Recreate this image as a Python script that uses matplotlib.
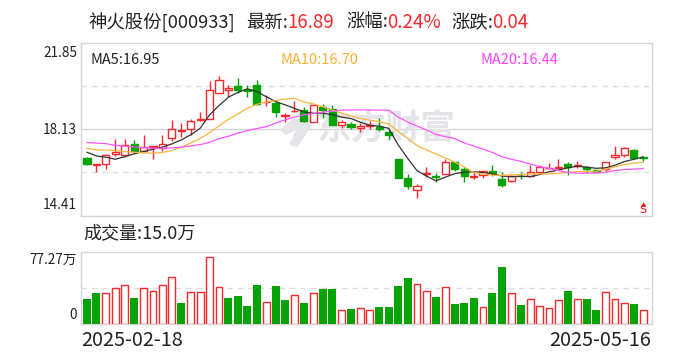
import numpy as np
import matplotlib
matplotlib.use('Agg')
import matplotlib.pyplot as plt
from matplotlib.patches import Polygon

plt.rcParams['font.family'] = ['Noto Sans CJK SC', 'DejaVu Sans']

# candle data, one row of ten per line
opens = [16.89, 16.60, 16.61, 17.06, 17.03, 17.47, 17.19, 17.35, 17.33, 17.73,
         18.06, 18.12, 18.52, 18.58, 19.67, 19.82, 19.98, 19.84, 20.03, 19.27,
         19.24, 18.69, 18.89, 18.95, 18.45, 19.08, 18.98, 18.32, 18.35, 18.16,
         18.28, 18.23, 18.00, 16.84, 16.03, 15.50, 16.19, 16.11, 16.19, 16.71,
         16.40, 16.08, 16.16, 16.31, 15.98, 15.90, 16.13, 16.10, 16.30, 16.44,
         16.47, 16.63, 16.54, 16.49, 16.36, 16.40, 16.94, 17.03, 17.23, 16.92]
closes = [16.63, 16.63, 17.00, 17.15, 17.46, 17.20, 17.37, 17.39, 17.50, 18.12,
          18.09, 18.46, 18.55, 19.80, 20.23, 19.91, 19.81, 19.75, 19.22, 19.29,
          18.84, 18.74, 18.92, 18.48, 19.15, 18.96, 18.32, 18.43, 18.23, 18.26,
          18.32, 18.11, 17.89, 16.04, 15.70, 15.67, 16.23, 16.06, 16.70, 16.41,
          16.13, 16.11, 16.34, 16.23, 15.73, 16.10, 16.10, 16.26, 16.49, 16.47,
          16.50, 16.50, 16.59, 16.39, 16.29, 16.70, 17.03, 17.30, 16.89, 16.89]
highs = [16.92, 16.63, 17.06, 17.70, 17.70, 17.66, 17.88, 17.42, 17.88, 18.52,
         18.38, 18.55, 18.86, 20.20, 20.41, 20.01, 20.33, 20.03, 20.24, 19.60,
         19.38, 18.81, 19.34, 19.09, 19.15, 19.19, 19.15, 18.52, 18.43, 18.38,
         18.48, 18.59, 18.12, 16.84, 16.20, 15.77, 16.50, 16.23, 16.86, 16.71,
         16.51, 16.29, 16.34, 16.57, 16.27, 16.16, 16.29, 16.60, 16.57, 16.67,
         16.84, 16.71, 16.74, 16.54, 16.37, 16.70, 17.40, 17.36, 17.26, 16.94]
lows = [16.59, 16.29, 16.43, 16.99, 16.94, 17.09, 17.12, 16.86, 17.20, 17.63,
        17.80, 17.88, 18.48, 18.55, 19.67, 19.50, 19.67, 19.52, 19.15, 19.14,
        18.66, 18.45, 18.86, 18.45, 18.45, 18.62, 18.29, 18.19, 18.12, 18.02,
        18.13, 18.06, 17.68, 16.04, 15.53, 15.18, 16.06, 15.87, 16.19, 16.33,
        15.86, 15.97, 16.04, 16.13, 15.64, 15.87, 15.96, 16.08, 16.20, 16.43,
        16.41, 16.16, 16.44, 16.23, 16.27, 16.34, 16.84, 16.92, 16.86, 16.77]

ma5 = [17.13, 16.97, 16.92, 16.83, 16.94, 17.06, 17.16, 17.26, 17.35, 17.49,
       17.66, 17.88, 18.16, 18.74, 19.14, 19.50, 19.70, 19.85, 19.74, 19.52,
       19.31, 19.17, 19.02, 18.86, 18.81, 18.81, 18.75, 18.64, 18.58, 18.42,
       18.29, 18.25, 18.16, 17.45, 16.87, 16.34, 16.11, 15.90, 16.06, 16.21,
       16.27, 16.29, 16.26, 16.20, 16.11, 16.08, 16.10, 16.08, 16.17, 16.29,
       16.36, 16.46, 16.53, 16.49, 16.44, 16.46, 16.57, 16.73, 16.83, 16.93]
ma10 = [17.30, 17.23, 17.22, 17.20, 17.16, 17.13, 17.10, 17.09, 17.12, 17.20,
        17.35, 17.53, 17.72, 17.98, 18.26, 18.55, 18.78, 19.02, 19.19, 19.29,
        19.35, 19.42, 19.45, 19.29, 19.21, 19.09, 18.95, 18.81, 18.69, 18.58,
        18.51, 18.45, 18.35, 18.02, 17.73, 17.42, 17.23, 17.06, 16.89, 16.70,
        16.50, 16.26, 16.20, 16.14, 16.14, 16.16, 16.17, 16.19, 16.20, 16.20,
        16.23, 16.26, 16.30, 16.30, 16.31, 16.40, 16.51, 16.60, 16.66, 16.70]
ma20 = [17.55, 17.52, 17.50, 17.43, 17.39, 17.36, 17.33, 17.30, 17.30, 17.32,
        17.35, 17.40, 17.46, 17.55, 17.72, 17.82, 17.95, 18.06, 18.15, 18.23,
        18.38, 18.52, 18.64, 18.74, 18.79, 18.86, 18.89, 18.94, 18.95, 18.95,
        18.95, 18.94, 18.94, 18.64, 18.43, 18.26, 18.09, 17.90, 17.80, 17.72,
        17.53, 17.40, 17.26, 17.12, 16.94, 16.83, 16.74, 16.63, 16.51, 16.44,
        16.34, 16.26, 16.23, 16.23, 16.24, 16.27, 16.34, 16.39, 16.40, 16.43]

# volume in 万, r = red outline, g = solid green
volumes = [26.1, 32.6, 32.2, 37.6, 40.8, 27.2, 37.6, 35.4, 40.8, 50.4,
           21.8, 34.3, 33.3, 71.9, 39.7, 27.2, 29.3, 18.6, 41.1, 23.6,
           40.1, 25.0, 31.1, 21.8, 32.2, 36.8, 36.8, 15.0, 15.4, 16.1,
           15.0, 17.5, 17.5, 40.1, 48.6, 42.9, 35.4, 28.3, 39.7, 20.7,
           21.8, 27.2, 17.2, 32.6, 60.5, 32.2, 19.7, 26.8, 19.3, 16.1,
           24.7, 34.7, 25.8, 26.1, 14.3, 33.3, 25.8, 22.5, 20.7, 15.0]
vol_colors = list('ggrrrgrrrr' 'grrrrggggr' 'ggrgrggrgr' 'rggggrrgrg' 'ggrggrgrrr' 'rgrggrrrgr')

price_top = 21.85
price_mid = 18.13
price_bottom = 14.41
vol_top = 77.27
date_labels = ['2025-02-18', '2025-05-16']

RED = '#f8282c'
GREEN = '#05a305'
FRAME = '#d4d4da'
GRID = '#dddddd'
MARK = '#e4e4e9'
W, H = 688, 360

x = np.arange(len(closes))
opens_a, closes_a = np.array(opens), np.array(closes)
is_up = closes_a >= opens_a

fig = plt.figure(figsize=(W / 100, H / 100), dpi=100)


def box(left, top, right, bottom):
    return [left / W, 1 - bottom / H, (right - left) / W, (bottom - top) / H]


def label(px, py, s, color='#222222', size=10, ha='left', **kw):
    fig.text(px / W, 1 - py / H, s, color=color, fontsize=size, ha=ha, va='center', **kw)


ax = fig.add_axes(box(80.5, 42.5, 651.5, 215.5))
ax2 = fig.add_axes(box(80.5, 251.5, 651.5, 323.5))

for a in [ax, ax2]:
    a.set_xlim(-0.69, 59.87)
    a.set_xticks([])
    a.set_yticks([])
    for s in a.spines.values():
        s.set_color(FRAME)
        s.set_linewidth(1)

ax.set_ylim(price_bottom, price_top)
ax2.set_ylim(0, vol_top)

# grid
ax.axhline(price_mid, color=FRAME, lw=1, zorder=1)
for v in [(price_top + price_mid) / 2, (price_mid + price_bottom) / 2]:
    ax.axhline(v, color=GRID, lw=1, dashes=(4, 3.5), zorder=1)
ax2.axhline(vol_top / 2, color=GRID, lw=1, dashes=(4, 3.5), zorder=1)

# watermark
ax.text(386 / W, 1 - 128 / H, '东方财富', transform=fig.transFigure, fontsize=25, fontweight='bold',
        color=MARK, ha='center', va='center', zorder=1.5)
swoosh = [(280, 130), (292, 119), (312, 117), (312, 124), (305, 136), (297, 147), (289, 145), (296, 130), (286, 135)]
ax.add_patch(Polygon([(px / W, 1 - py / H) for px, py in swoosh], closed=True, transform=fig.transFigure,
                     facecolor=MARK, edgecolor='none', zorder=1.5))

# candles
for i in x:
    col = RED if is_up[i] else GREEN
    ax.vlines(i, lows[i], highs[i], color=col, lw=1, zorder=2)
    top = max(opens[i], closes[i])
    bottom = min(opens[i], closes[i])
    ax.bar(i, top - bottom, bottom=bottom, width=0.76, facecolor='white' if is_up[i] else col,
           edgecolor=col, linewidth=1, zorder=3)

ax.plot(x, ma5, color='#333333', lw=0.9, zorder=4)
ax.plot(x, ma10, color='#fbb540', lw=0.9, zorder=4)
ax.plot(x, ma20, color='#ff55ff', lw=0.9, zorder=4)

# volume
for i in x:
    if vol_colors[i] == 'r':
        ax2.bar(i, volumes[i], width=0.74, facecolor='white', edgecolor=RED, linewidth=1, zorder=3)
    else:
        ax2.bar(i, volumes[i], width=0.84, facecolor=GREEN, edgecolor='none', zorder=3)

# S marker
ax.plot([x[-1]], [14.92], marker='^', ms=3.5, color='#f01010', mew=0, zorder=5)
ax.text(x[-1], 14.64, 'S', color='#f01010', fontsize=8, ha='center', va='center',
        fontfamily='DejaVu Sans', zorder=5)

# title row
label(88, 23, '神火股份[000933]', size=13.2)
label(246, 23, '最新:', size=13.2)
label(287, 23, '16.89', color=RED, size=13.5)
label(346, 23, '涨幅:', size=13.2)
label(387, 23, '0.24%', color=RED, size=13.5)
label(451, 23, '涨跌:', size=13.2)
label(492, 23, '0.04', color=RED, size=13.5)

# ma row
label(90.5, 60, 'MA5:16.95', size=10.5)
label(281, 60, 'MA10:16.70', color='#fbb030', size=10.5)
label(481, 60, 'MA20:16.44', color='#ff40ff', size=10.5)

# axis values
label(77, 53, f'{price_top:.2f}', size=9.8, ha='right')
label(77, 130, f'{price_mid:.2f}', size=9.8, ha='right')
label(77, 205, f'{price_bottom:.2f}', size=9.8, ha='right')
label(77, 260, f'{vol_top:.2f}万', size=9.8, ha='right')
label(77, 315, '0', size=9.8, ha='right')

label(83, 233, '成交量:15.0万', size=13)
label(81, 341, date_labels[0], size=14.3)
label(651, 341, date_labels[1], size=14.3, ha='right')

fig.savefig('out.png', dpi=100)
